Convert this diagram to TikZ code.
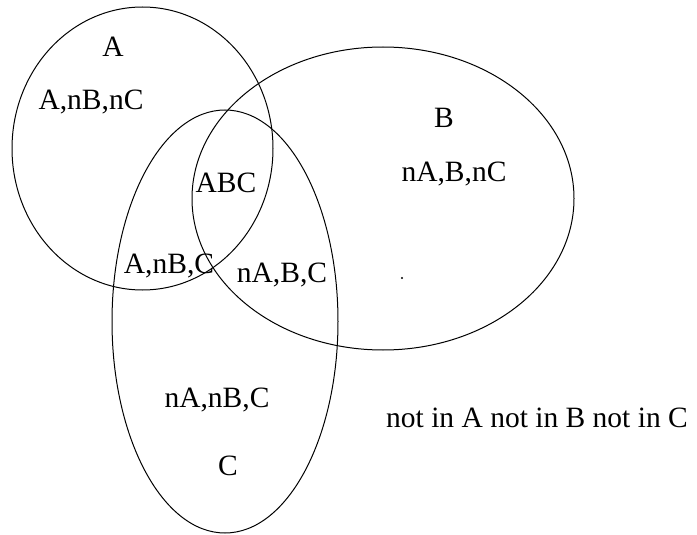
\documentclass[tikz,border=0pt]{standalone}
\usepackage{fontspec}
\setmainfont{Liberation Serif}
\usetikzlibrary{shapes.geometric}
\begin{document}
\begin{tikzpicture}[x=1pt,y=-1pt,
  setshape/.style={ellipse,draw=black,line width=1pt,inner sep=0pt,outer sep=0pt},
  lbl/.style={anchor=base,inner sep=0pt,font=\fontsize{29.5}{34}\selectfont}]
\useasboundingbox (0,0) rectangle (697,535);
\node[setshape,minimum width=261pt,minimum height=283pt] (A) at (142.5,148.5) {};
\node[setshape,minimum width=382pt,minimum height=303pt] (B) at (383,198.5) {};
\node[setshape,minimum width=226pt,minimum height=423pt] (C) at (225,321.5) {};
\node[lbl] (la) at (113,57) {A};
\node[lbl] (lanbnc) at (91,110) {A,nB,nC};
\node[lbl] (lb) at (444,128) {B};
\node[lbl] (lnabnc) at (454,182) {nA,B,nC};
\node[lbl] (labc) at (226,193) {ABC};
\node[lbl] (lanbc) at (169,273) {A,nB,C};
\node[lbl] (lnabc) at (282,282) {nA,B,C};
\node[lbl] (lnanbc) at (217,407) {nA,nB,C};
\node[lbl] (lc) at (228,475) {C};
\node[lbl] (lnot) at (537,427) {not in A not in B not in C};
\fill (402,278) circle (1.2pt);
\end{tikzpicture}
\end{document}
